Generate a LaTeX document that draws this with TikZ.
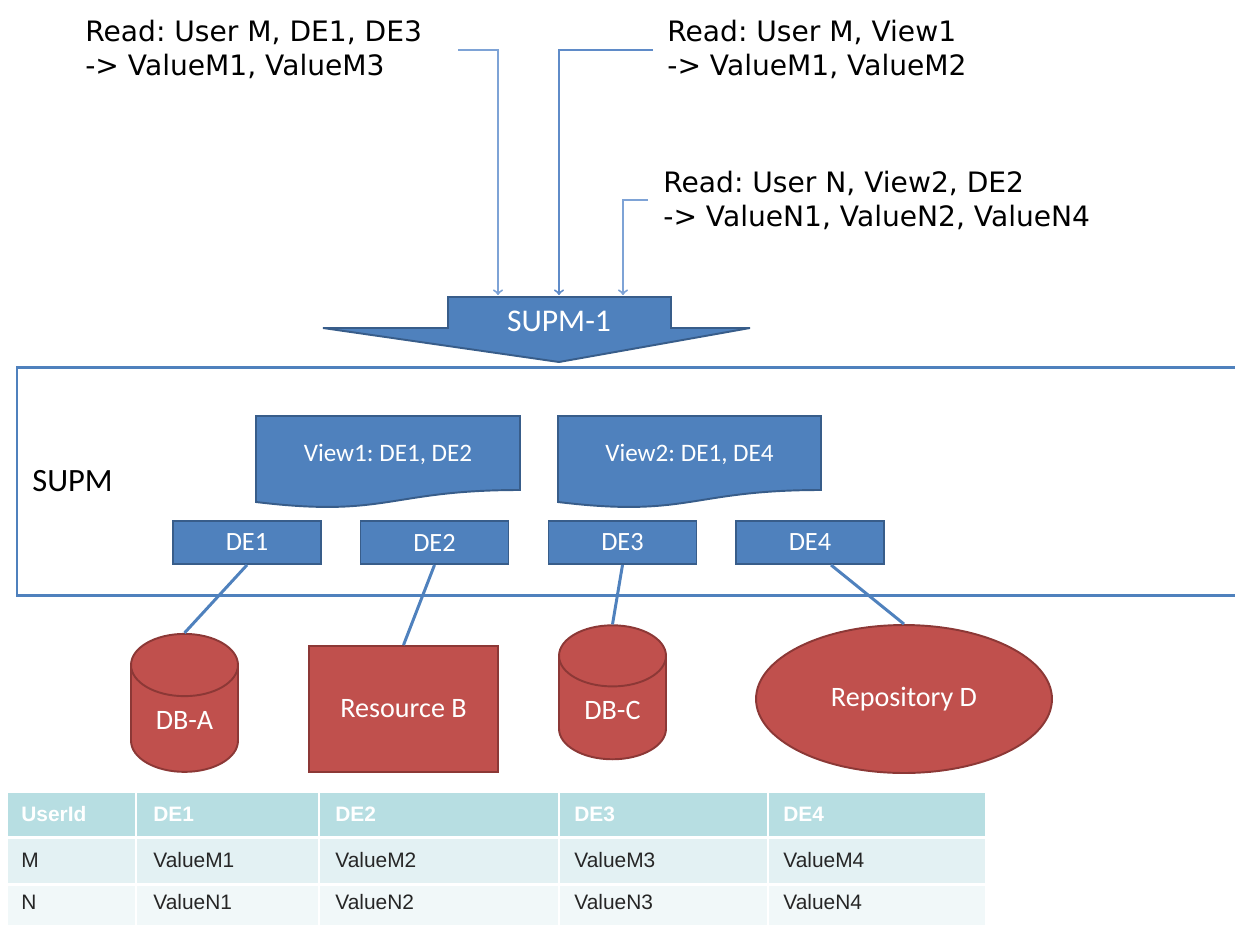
\documentclass[tikz,border=0pt]{standalone}
\usepackage{fontspec}
\setmainfont{Carlito}
\newfontfamily\notefont{DejaVu Sans}
\newfontfamily\tablefont{Liberation Sans}
\usepackage{tikz}
\usetikzlibrary{shapes.geometric}
\usepackage{xcolor}
\definecolor{supmblue}{HTML}{4F81BD}
\definecolor{supmedge}{HTML}{385D8A}
\definecolor{readblue}{HTML}{7EA3D6}
\definecolor{readdark}{HTML}{5F8BC8}
\definecolor{resred}{HTML}{C0504D}
\definecolor{resedge}{HTML}{8C3836}
\definecolor{tabhead}{HTML}{B7DEE2}
\definecolor{tabrowa}{HTML}{E3F1F3}
\definecolor{tabrowb}{HTML}{F1F8F9}
\frenchspacing

\begin{document}
\begin{tikzpicture}[x=0.02cm,y=-0.02cm,font=\fontsize{15}{18}\selectfont]
        \tikzstyle{read note}=[font=\notefont\fontsize{16}{19.3}\selectfont,align=left,inner sep=0,anchor=base west]
        \tikzstyle{read line}=[draw=readblue,line width=1.1pt,->]
        \tikzstyle{de box}=[rectangle,draw=supmedge,fill=supmblue,line width=1.1pt,text=white,minimum width=2.96cm,minimum height=0.86cm]
        \tikzstyle{view doc}=[draw=supmedge,fill=supmblue,line width=1.1pt]
        \tikzstyle{view text}=[text=white,font=\fontsize{14.3}{17}\selectfont]
        \tikzstyle{res shape}=[draw=resedge,fill=resred,line width=1.1pt,text=white,font=\fontsize{16}{19}\selectfont]
        \tikzstyle{db shape}=[res shape,cylinder,shape border rotate=90,aspect=0.9,minimum width=2.14cm]
        \tikzstyle{link}=[draw=supmblue,line width=1.7pt]
        \tikzstyle{cell}=[font=\tablefont\fontsize{11.9}{14}\selectfont,anchor=west,inner sep=0,text=black!85]
        \tikzstyle{head cell}=[cell,font=\tablefont\bfseries\fontsize{11.9}{14}\selectfont,text=white]

        \useasboundingbox (0,0) rectangle (1235,924);

        % read requests (anchored at the baseline of the second line)
        \node[read note] (readM) at (85,75) {Read: User M, DE1, DE3\\-> ValueM1, ValueM3};
        \node[read note] (readV) at (667,75) {Read: User M, View1\\-> ValueM1, ValueM2};
        \node[read note] (readN) at (663,226) {Read: User N, View2, DE2\\-> ValueN1, ValueN2, ValueN4};

        % SUPM-1 arrow
        \draw[view doc] (448,297) -- (671,297) -- (671,328) -- (750,328) -- (559,362) -- (323,328) -- (448,328) -- cycle;
        \node[text=white,font=\fontsize{18}{21}\selectfont] (supm1) at (559,321) {SUPM-1};

        \coordinate (rM) at (458,50);
        \coordinate (rV) at (653,50);
        \coordinate (rN) at (648,200);
        \coordinate (inM) at (498,295);
        \coordinate (inV) at (559,295);
        \coordinate (inN) at (623,295);
        \draw[read line] (rM) -| (inM);
        \draw[read line,draw=readdark] (rV) -| (inV);
        \draw[read line] (rN) -| (inN);

        % SUPM frame
        \draw[supmblue,line width=1.7pt] (17,367) rectangle (1280,595);
        \node[anchor=base west,inner sep=0,font=\fontsize{18.5}{22}\selectfont] (supm) at (32,491) {SUPM};

        % views
        \draw[view doc] (256,416) -- (520,416) -- (520,490) .. controls (388,490) and (388,518) .. (256,502) -- cycle;
        \node[view text] (view1) at (388,454) {View1: DE1, DE2};
        \draw[view doc] (558,416) -- (821,416) -- (821,490) .. controls (689.5,490) and (689.5,518) .. (558,502) -- cycle;
        \node[view text] (view2) at (689.5,454) {View2: DE1, DE4};

        % data elements
        \node[de box] (de1) at (247,542.5) {DE1};
        \node[de box] (de2) at (434.5,542.5) {DE2};
        \node[de box] (de3) at (622.5,542.5) {DE3};
        \node[de box] (de4) at (810,542.5) {DE4};

        % resources
        \node[db shape,minimum height=2.76cm] (dba) at (184.5,726) {\raisebox{0.22cm}{DB-A}};
        \node[res shape,rectangle,minimum width=3.78cm,minimum height=2.52cm] (resb) at (403.5,709) {Resource B};
        \node[db shape,minimum height=2.68cm] (dbc) at (612.5,715) {\raisebox{0.2cm}{DB-C}};
        \node[res shape,ellipse,inner sep=0,minimum width=5.92cm,minimum height=2.96cm] (repd) at (904,699) {Repository D};

        \draw[link] (de1.south) -- (dba.north);
        \draw[link] (de2.south) -- (resb.north);
        \draw[link] (de3.south) -- (dbc.north);
        \draw[link] ([xshift=0.42cm]de4.south) -- (repd.north);

        % value table
        \fill[tabhead] (8,793) rectangle (985,836);
        \fill[tabrowa] (8,839) rectangle (985,883);
        \fill[tabrowb] (8,886) rectangle (985,930);
        \draw[white,line width=1.2pt] (136,793) -- (136,930) (319,793) -- (319,930) (559,793) -- (559,930) (768,793) -- (768,930);
        \node[head cell] (hUser) at (21,814) {UserId};
        \node[head cell] (hDE1) at (153,814) {DE1};
        \node[head cell] (hDE2) at (335,814) {DE2};
        \node[head cell] (hDE3) at (574,814) {DE3};
        \node[head cell] (hDE4) at (783,814) {DE4};
        \node[cell] (mUser) at (21,860) {M};
        \node[cell] (mDE1) at (153,860) {ValueM1};
        \node[cell] (mDE2) at (335,860) {ValueM2};
        \node[cell] (mDE3) at (574,860) {ValueM3};
        \node[cell] (mDE4) at (783,860) {ValueM4};
        \node[cell] (nUser) at (21,902) {N};
        \node[cell] (nDE1) at (153,902) {ValueN1};
        \node[cell] (nDE2) at (335,902) {ValueN2};
        \node[cell] (nDE3) at (574,902) {ValueN3};
        \node[cell] (nDE4) at (783,902) {ValueN4};
\end{tikzpicture}
\end{document}
